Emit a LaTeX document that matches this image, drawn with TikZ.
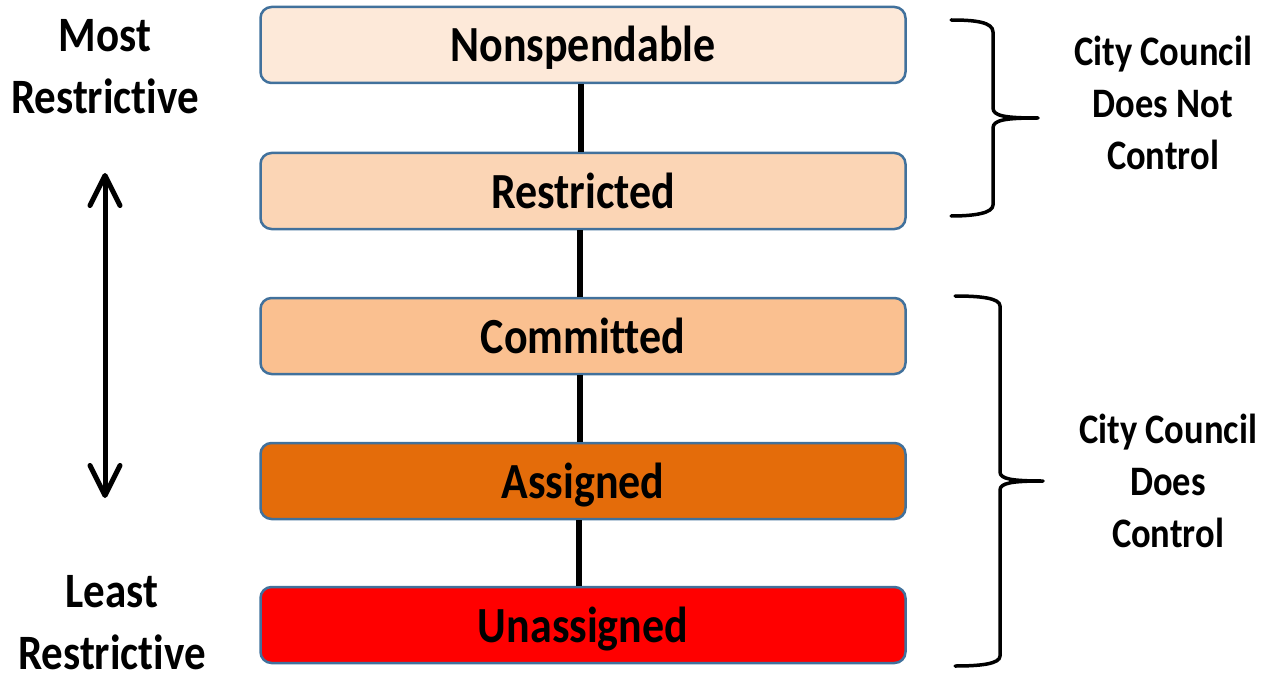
\documentclass[tikz,border=0pt]{standalone}
\usepackage{fontspec}
\usepackage{graphicx}
\setmainfont{Carlito}[Ligatures=NoCommon]
\usetikzlibrary{arrows.meta}
\definecolor{bordc}{HTML}{41719C}
\definecolor{cA}{HTML}{FDE9D9}
\definecolor{cB}{HTML}{FBD5B5}
\definecolor{cC}{HTML}{FAC090}
\definecolor{cD}{HTML}{E46C0A}
\definecolor{cE}{HTML}{FF0000}
\newcommand{\vs}[1]{\scalebox{1}[1.15]{#1}}
\newcommand{\bt}[1]{\raisebox{-17pt}[0pt][0pt]{\vs{#1}}}
\tikzset{
  fundbox/.style={draw=bordc, line width=2.5pt, rounded corners=11pt, minimum width=645pt, minimum height=76pt, inner sep=0pt, font=\fontsize{44}{48}\selectfont\bfseries},
  sidetext/.style={align=center, font=\fontsize{36.5}{52}\selectfont\bfseries},
  endtext/.style={align=center, inner sep=0pt, font=\fontsize{43}{62}\selectfont\bfseries},
  link/.style={line width=5.5pt},
  bracestyle/.style={line width=3.5pt, line cap=round, line join=round}
}
\begin{document}
\begin{tikzpicture}[x=1pt,y=-1pt]
\useasboundingbox (0,0) rectangle (1265,679);
\node[fundbox, fill=cA] (b1) at (583,45) {\bt{Nonspendable}};
\node[fundbox, fill=cB] (b2) at (583,191) {\bt{Restricted}};
\node[fundbox, fill=cC] (b3) at (583,336) {\bt{Committed}};
\node[fundbox, fill=cD] (b4) at (583,481) {\bt{Assigned}};
\node[fundbox, fill=cE] (b5) at (583,625) {\bt{Unassigned}};
\draw[link] ([xshift=-2pt]b1.south) -- ([xshift=-2pt]b2.north);
\draw[link] ([xshift=-3pt]b2.south) -- ([xshift=-3pt]b3.north);
\draw[link] ([xshift=-3pt]b3.south) -- ([xshift=-3pt]b4.north);
\draw[link] ([xshift=-4pt]b4.south) -- ([xshift=-4pt]b5.north);
\node[endtext] (most) at (105,67) {\vs{Most}\\\vs{Restrictive}};
\node[endtext] (least) at (112,623) {\vs{Least}\\\vs{Restrictive}};
\coordinate (atop) at (105,173);
\coordinate (abot) at (105,498);
\draw[line width=5pt, {Straight Barb[length=30pt,width=30pt,round]}-{Straight Barb[length=30pt,width=30pt,round]}] (atop) -- (abot);
\node[sidetext] (cc1) at (1163,103) {\vs{City Council}\\\vs{Does Not}\\\vs{Control}};
\node[sidetext] (cc2) at (1168,481) {\vs{City Council}\\\vs{Does}\\\vs{Control}};
\draw[bracestyle] (951,20) .. controls (975,20) and (993,22) .. (993,32) -- (993,108) .. controls (993,116) and (1005,118) .. (1038,118)
  .. controls (1005,118) and (993,120) .. (993,128) -- (993,205) .. controls (993,213) and (975,216) .. (951,216);
\draw[bracestyle] (955,296) .. controls (980,296) and (1000,298) .. (1000,306) -- (1000,472) .. controls (1000,479) and (1012,481) .. (1043,481)
  .. controls (1012,481) and (1000,483) .. (1000,490) -- (1000,656) .. controls (1000,664) and (980,666) .. (955,666);
\end{tikzpicture}
\end{document}
